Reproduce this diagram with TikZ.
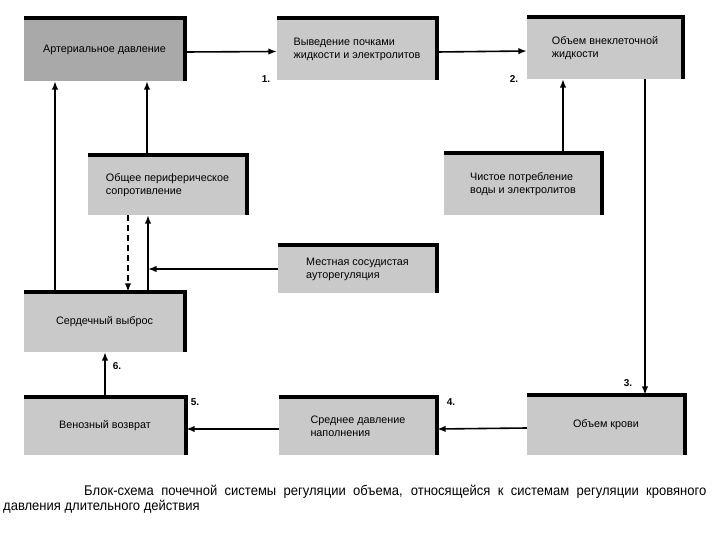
\documentclass[tikz,border=0pt]{standalone}
\usepackage{fontspec}
\setmainfont{Liberation Sans}
\newfontfamily\capfont[FakeStretch=0.93]{Liberation Sans}
\usetikzlibrary{arrows.meta,calc}
\definecolor{boxgray}{HTML}{C9C9C9}
\definecolor{boxdark}{HTML}{A9A9A9}
\begin{document}
\begin{tikzpicture}[x=1pt,y=-1pt,
  box/.style={fill=boxgray, inner sep=0pt, align=left, font=\fontsize{10.8}{13}\selectfont},
  arr/.style={line width=1.6pt, -{Latex[length=8.5pt,width=6.5pt]}},
  darr/.style={arr, dashed, dash pattern=on 6pt off 4pt},
  lbl/.style={font=\bfseries\fontsize{10}{11}\selectfont, inner sep=0pt},
  edge/.style={line width=4pt, line join=miter},
  captxt/.style={inner sep=0pt, font=\capfont\fontsize{14}{16}\selectfont}
]
\fill[white] (0,0) rectangle (720,540);
\useasboundingbox (0,0) rectangle (720,540);

\node[box, fill=boxdark, minimum width=161pt, minimum height=63pt] (art) at (104.5,49.5) {Артериальное давление};
\node[box, minimum width=160pt, minimum height=62pt] (vyv) at (357,49) {Выведение почками\\жидкости и электролитов};
\node[box, minimum width=156pt, minimum height=62pt] (ecf) at (605,48) {Объем внеклеточной\\жидкости};
\node[box, minimum width=159pt, minimum height=60pt] (opr) at (167.5,185) {Общее периферическое\\сопротивление};
\node[box, minimum width=158pt, minimum height=62pt] (chis) at (523,184) {Чистое потребление\\воды и электролитов};
\node[box, minimum width=159pt, minimum height=48pt] (mest) at (357.5,269) {Местная сосудистая\\ауторегуляция};
\node[box, minimum width=161pt, minimum height=60pt] (serd) at (104.5,322) {Сердечный выброс};
\node[box, minimum width=162pt, minimum height=58pt] (ven) at (105,426) {Венозный возврат};
\node[box, minimum width=158pt, minimum height=58pt] (sred) at (358,426) {Среднее давление\\наполнения};
\node[box, minimum width=158pt, minimum height=60pt] (krov) at (606,425) {Объем крови};

\foreach \n in {art,vyv,ecf,opr,chis,mest,serd,ven,sred,krov}
  \draw[edge] (\n.north west) -- (\n.north east) -- (\n.south east);

% connectors
\draw[arr] ([yshift=-2.5pt]art.east) -- ([yshift=-2.5pt]vyv.west);
\draw[arr] ([yshift=-3pt]vyv.east) -- ([yshift=-3pt]ecf.west);
\draw[arr] ([xshift=40pt]chis.north) -- ([xshift=40pt]chis.north |- ecf.south);
\draw[arr] ([xshift=40pt]ecf.south) -- ([xshift=40pt]ecf.south |- krov.north);
\draw[arr] ([yshift=-3pt]krov.west) -- ([yshift=-3pt]sred.east);
\draw[arr] ([yshift=-3pt]sred.west) -- ([yshift=-3pt]ven.east);
\draw[arr] (ven.north) -- (ven.north |- serd.south);
\draw[arr] ([xshift=-49.5pt]serd.north) -- ([xshift=-49.5pt]serd.north |- art.south);
\draw[arr] ([xshift=-20.5pt]opr.north) -- ([xshift=-20.5pt]opr.north |- art.south);
\draw[darr] ([xshift=-39.5pt]opr.south) -- ([xshift=-39.5pt]opr.south |- serd.north);
\draw[arr] ([xshift=-19.5pt]opr.south |- serd.north) -- ([xshift=-19.5pt]opr.south);
\coordinate (j) at ([xshift=-19.5pt]opr.south |- mest.west);
\draw[arr] (mest.west) -- (j);

% step labels
\node[lbl] (l1) at (266,79) {1.};
\node[lbl] (l2) at (514,79) {2.};
\node[lbl] (l3) at (628,383) {3.};
\node[lbl] (l4) at (451,402) {4.};
\node[lbl] (l5) at (195,402) {5.};
\node[lbl] (l6) at (117,366) {6.};

% caption
\node[captxt, anchor=base west] (cap1) at (84,495)
  {\makebox[622pt][s]{Блок-схема почечной системы регуляции объема, относящейся к системам регуляции кровяного}};
\node[captxt, anchor=base west] (cap2) at (3,510) {давления длительного действия};
\end{tikzpicture}
\end{document}
